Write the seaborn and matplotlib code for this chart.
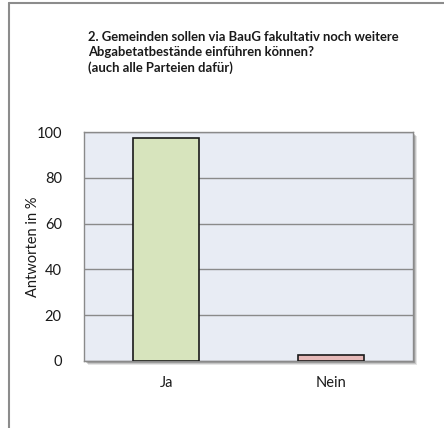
import matplotlib
matplotlib.use("Agg")
import matplotlib.pyplot as plt
from matplotlib.patches import Rectangle
import seaborn as sns
import pandas as pd

categories = ["Ja", "Nein"]
values = [97.2, 2.8]
bar_colors = ["#D7E4BD", "#E6B9B8"]
yticks = [0, 20, 40, 60, 80, 100]
title = ("2. Gemeinden sollen via BauG fakultativ noch weitere\n"
         "Abgabetatbestände einführen können?\n"
         "(auch alle Parteien dafür)")
ylabel = "Antworten in %"

sns.set_theme(style="white")
plt.rcParams["font.family"] = ["Lato", "DejaVu Sans"]

df = pd.DataFrame({"Antwort": categories, "Wert": values})

W, H = 444, 428
fig = plt.figure(figsize=(W / 100, H / 100), dpi=100)
fig.patch.set_facecolor("white")

# outer chart frame (left and top edges visible)
fig.add_artist(plt.Line2D([8.5 / W, 8.5 / W], [0, 1 - 3 / H], color="#8c8c8c", lw=1.5))
fig.add_artist(plt.Line2D([8.5 / W, 1], [1 - 3 / H, 1 - 3 / H], color="#8c8c8c", lw=1.5))

left, right, top, bottom = 84, 413, 132, 361
ax = fig.add_axes([left / W, 1 - bottom / H, (right - left) / W, (bottom - top) / H])

# soft drop shadow behind plot area
for i, a in enumerate([0.10, 0.14, 0.18]):
    off = 4 - i
    fig.add_artist(Rectangle(((left + off) / W, 1 - (bottom + off) / H),
                             (right - left) / W, (bottom - top) / H,
                             transform=fig.transFigure, facecolor="#000000",
                             alpha=a, edgecolor="none", zorder=0))

ax.set_facecolor("#E8ECF4")
sns.barplot(data=df, x="Antwort", y="Wert", hue="Antwort", palette=bar_colors,
            width=0.4, edgecolor="#1a1a1a", linewidth=1.2, legend=False, ax=ax,
            zorder=3, saturation=1)

ax.set_ylim(0, 100)
ax.set_xlim(-0.5, 1.5)
ax.set_yticks(yticks)
ax.set_yticklabels([str(t) for t in yticks], fontsize=10.5, color="#1a1a1a")
ax.tick_params(axis="x", labelsize=10.5, colors="#1a1a1a", length=0, pad=11)
ax.tick_params(axis="y", length=0, pad=16)
ax.yaxis.grid(True, color="#8a8a8a", lw=1)
ax.set_axisbelow(True)
for s in ax.spines.values():
    s.set_color("#8a8a8a")
    s.set_linewidth(1)
ax.set_xlabel("")
ax.set_ylabel("")

fig.text(33 / W, 1 - 247 / H, ylabel, fontsize=10.5, color="#1a1a1a",
         rotation=90, ha="center", va="center")

fig.text(88 / W, 1 - 31 / H, title, fontsize=9.4, fontweight="bold",
         va="top", ha="left", color="#1a1a1a", linespacing=1.3)

fig.savefig("out.png", dpi=100)
